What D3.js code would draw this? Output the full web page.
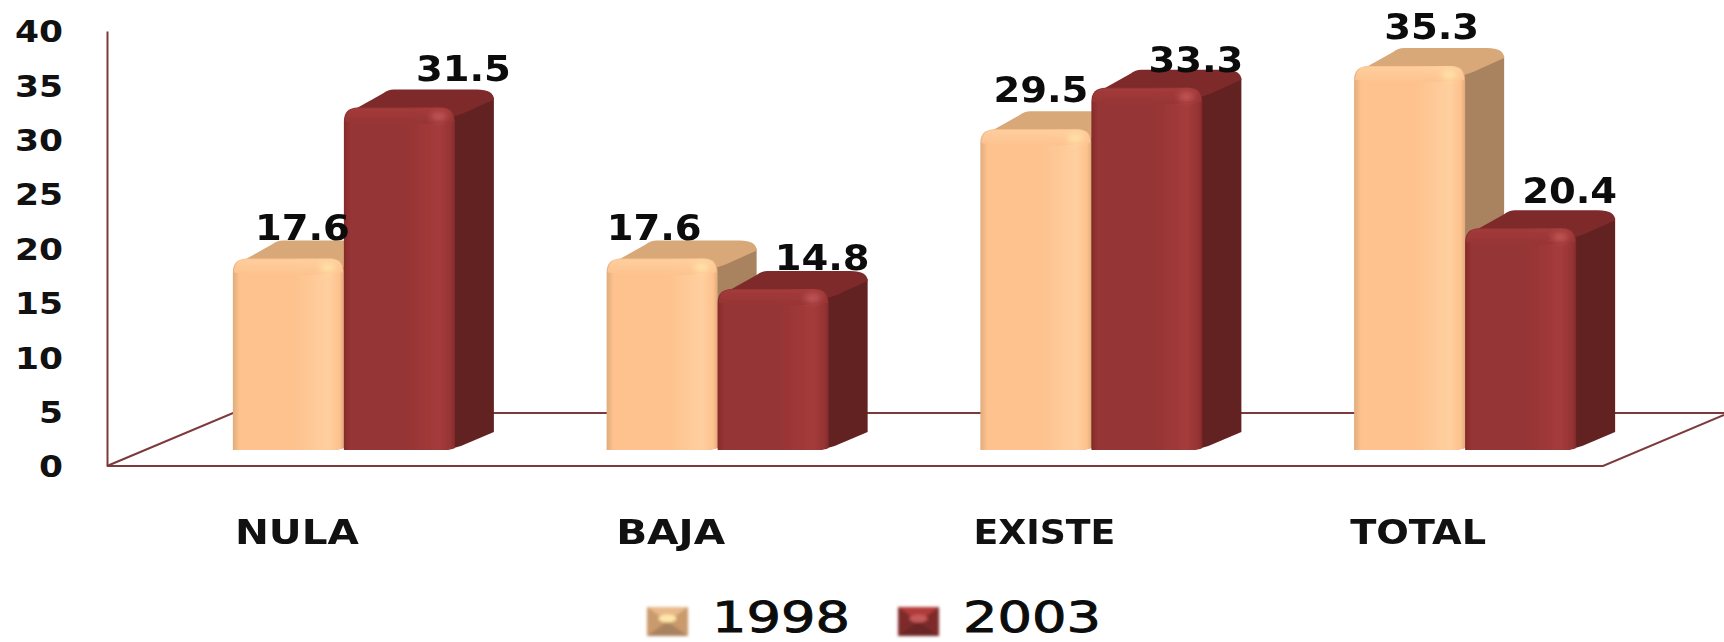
<!DOCTYPE html>
<html><head><meta charset="utf-8">
<script src="https://cdn.jsdelivr.net/npm/d3@7"></script>
<style>html,body{margin:0;padding:0;background:#fff}svg{display:block}</style>
</head><body><svg id="c" width="1724" height="642"></svg>
<script>
const categories = ["NULA","BAJA","EXISTE","TOTAL"];
const categoryLabelWidths = [124,109,142,136];
const seriesNames = ["1998","2003"];
const values1998 = [17.6,17.6,29.5,35.3];
const values2003 = [31.5,14.8,33.3,20.4];
const yTicks = [0,5,10,15,20,25,30,35,40];
// label nudges relative to the bar centre / bar top
const nudge1998 = [[14,-19],[-8,-19],[5,-27],[22,-27]];
const nudge2003 = [[64,-26],[49,-19],[49,-16],[49,-25]];
const palette = {
  "1998":{edge:"#e0ab7b",face:"#fdc28e",hi:"#ffcf9f",top:"#d8a878",side:"#a9825e",spot:"#ffe6a8",lgTop:"#e8b98a",lgSide:"#c99a6c",lgBottom:"#a9825e"},
  "2003":{edge:"#862a2a",face:"#963434",hi:"#a53b3b",top:"#7e2a2a",side:"#632121",spot:"#c65a5a",lgTop:"#b23a3a",lgSide:"#7e2a2a",lgBottom:"#6b2626"}
};
const baseY=450,depthX=39,depthY=18,floorDrop=16,lineCol="#7d3a3c",fontFam="'DejaVu Sans',sans-serif";
const svg=d3.select("#c");
const y=d3.scaleLinear().domain([0,40]).range([baseY,baseY-435]);
const x0=d3.scaleBand().domain(categories).range([157,1652]);
const bw=x0.bandwidth();
const x1=d3.scaleBand().domain(seriesNames).range([bw/2-111,bw/2+111]);
const barW=x1.bandwidth();

const defs=svg.append("defs");
defs.append("filter").attr("id","soft").append("feGaussianBlur").attr("stdDeviation",0.7);
defs.append("filter").attr("id","soft2").attr("x","-10%").attr("y","-10%").attr("width","120%").attr("height","120%").append("feGaussianBlur").attr("stdDeviation",1.4);
const soft2=defs.append("filter").attr("id","spot").attr("x","-100%").attr("y","-100%").attr("width","300%").attr("height","300%");
soft2.append("feGaussianBlur").attr("stdDeviation",3);
const textSoft=defs.append("filter").attr("id","tsoft").attr("x","-5%").attr("y","-5%").attr("width","110%").attr("height","110%");
textSoft.append("feGaussianBlur").attr("stdDeviation",0.35);
seriesNames.forEach(s=>{
  const p=palette[s];
  const g=defs.append("linearGradient").attr("id","f"+s);
  [[0,p.edge],[.06,p.face],[.55,p.face],[.86,p.hi],[.96,p.face],[1,p.edge]].forEach(([o,c])=>g.append("stop").attr("offset",o).attr("stop-color",c));
  const t=defs.append("linearGradient").attr("id","t"+s).attr("x1",0).attr("x2",0).attr("y1",0).attr("y2",1);
  [[0,p.hi],[1,p.face]].forEach(([o,c])=>t.append("stop").attr("offset",o).attr("stop-color",c));
});

// floor
const floor=svg.append("g").attr("fill","none").attr("stroke",lineCol).attr("stroke-width",2);
floor.append("path").attr("d",d3.line()([[107,466],[1603,466],[1724,415]]));
floor.append("path").attr("d",d3.line()([[107,466],[233,413],[1724,413]]));

// y axis
const axis=d3.axisLeft(y).tickValues(yTicks).tickSize(0).tickPadding(44);
const ga=svg.append("g").attr("transform",`translate(107,${floorDrop})`).call(axis);
ga.select(".domain").attr("stroke",lineCol).attr("stroke-width",2);
ga.selectAll("text").attr("font-family",fontFam).attr("font-weight","bold").attr("font-size",30).attr("fill","#111").attr("dy","0.36em")
  .attr("textLength",function(){return this.textContent.length*24;}).attr("lengthAdjust","spacingAndGlyphs");

// bars
const rows=[];
categories.forEach((c,i)=>{
  rows.push({c,s:"1998",v:values1998[i],n:nudge1998[i]});
  rows.push({c,s:"2003",v:values2003[i],n:nudge2003[i]});
});
const gb=svg.append("g").attr("filter","url(#soft)");
rows.forEach(d=>{
  const p=palette[d.s], xl=x0(d.c)+x1(d.s), xr=xl+barW, t=y(d.v), r=14;
  const g=gb.append("g");
  g.append("path").attr("fill",p.side).attr("d",
    `M${xr-8},${t+2} L${xr+depthX},${t-depthY+8} L${xr+depthX},${baseY-depthY} L${xr+6},${baseY-4} L${xr-8},${baseY} Z`);
  g.append("path").attr("fill",p.top).attr("d",
    `M${xl+2},${t+8} Q${xl+6},${t+2} ${xl+14},${t} L${xl+depthX},${t-depthY+4} Q${xl+44},${t-depthY} ${xl+50},${t-depthY} L${xr+22},${t-depthY} Q${xr+depthX},${t-depthY} ${xr+depthX},${t-depthY+10} L${xr+8},${t+6} L${xr-10},${t+12} Z`);
  g.append("path").attr("fill",`url(#f${d.s})`).attr("d",
    `M${xl},${baseY} L${xl},${t+r} Q${xl},${t} ${xl+r},${t} L${xr-r},${t} Q${xr},${t} ${xr},${t+r} L${xr},${baseY-2} Q${xr-4},${baseY} ${xr-12},${baseY} Z`);
  g.append("path").attr("fill",`url(#t${d.s})`).attr("opacity",.9).attr("d",
    `M${xl+1},${t+14} Q${xl+1},${t+1} ${xl+r},${t+1} L${xr-r},${t+1} Q${xr-1},${t+1} ${xr-1},${t+14} Q${xl+barW/2},${t+20} ${xl+1},${t+14} Z`);
  g.append("ellipse").attr("cx",xr-16).attr("cy",t+9).attr("rx",8).attr("ry",4).attr("fill",p.spot).attr("filter","url(#spot)");
});

// value labels
svg.append("g").selectAll("text").data(rows).join("text")
  .attr("x",d=>x0(d.c)+x1(d.s)+barW/2+d.n[0])
  .attr("y",d=>y(d.v)+d.n[1])
  .attr("text-anchor","middle")
  .attr("font-family",fontFam).attr("font-weight","bold").attr("font-size",35).attr("fill","#0c0c0c")
  .attr("textLength",95).attr("lengthAdjust","spacingAndGlyphs")
  .text(d=>d.v.toFixed(1));

// category labels
svg.append("g").selectAll("text").data(categories).join("text")
  .attr("x",c=>x0(c)+bw/2-47)
  .attr("y",544)
  .attr("text-anchor","middle")
  .attr("font-family",fontFam).attr("font-weight","bold").attr("font-size",33).attr("fill","#111")
  .attr("textLength",(c,i)=>categoryLabelWidths[i]).attr("lengthAdjust","spacingAndGlyphs")
  .text(c=>c);

// legend
const legendX=d3.scalePoint().domain(seriesNames).range([647,898]);
const lg=svg.append("g").selectAll("g").data(seriesNames).join("g").attr("transform",s=>`translate(${legendX(s)},607)`);
lg.each(function(s){
  const g=d3.select(this),p=palette[s],w=41,h=29,cx=w/2,cy=h/2;
  const sw=g.append("g").attr("filter","url(#soft2)");
  sw.append("rect").attr("width",w).attr("height",h).attr("fill",p.lgSide);
  sw.append("path").attr("fill",p.lgTop).attr("d",`M0,0 L${w},0 L${cx},${cy} Z`);
  sw.append("path").attr("fill",p.lgBottom).attr("d",`M0,${h} L${w},${h} L${cx},${cy} Z`);
  sw.append("ellipse").attr("cx",cx).attr("cy",cy-3).attr("rx",9).attr("ry",4).attr("fill",p.spot);
  g.append("text").attr("x",65).attr("y",25).attr("font-family",fontFam).attr("font-size",42).attr("fill","#0c0c0c")
   .attr("stroke","#0c0c0c").attr("stroke-width",0.9)
   .attr("textLength",138).attr("lengthAdjust","spacingAndGlyphs").text(s);
});
</script></body></html>
